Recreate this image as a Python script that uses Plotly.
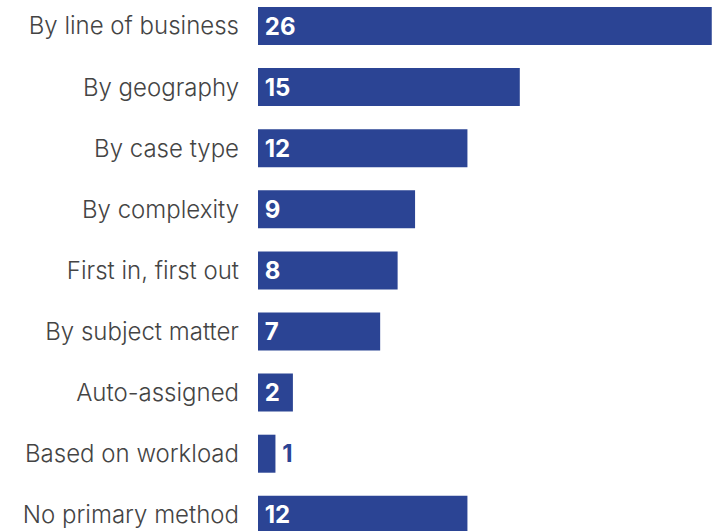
import plotly.graph_objects as go

categories = [
    "By line of business", "By geography", "By case type", "By complexity",
    "First in, first out", "By subject matter", "Auto-assigned",
    "Based on workload", "No primary method",
]
values = [26, 15, 12, 9, 8, 7, 2, 1, 12]

BLUE = "#2b4494"
# small bars carry their number outside
positions = ["inside" if v >= 2 else "outside" for v in values]
labels = ["\u2009" + str(v) for v in values]

fig = go.Figure(go.Bar(
    x=values,
    y=categories,
    orientation="h",
    marker=dict(color=BLUE, line=dict(width=0)),
    width=0.622,
    text=labels,
    textposition=positions,
    insidetextanchor="start",
    insidetextfont=dict(color="white", size=24, family="Inter", weight=700),
    outsidetextfont=dict(color=BLUE, size=24, family="Inter", weight=700),
    textangle=0,
    cliponaxis=False,
))

fig.update_layout(
    width=717, height=531,
    margin=dict(l=258, r=0, t=0, b=0),
    paper_bgcolor="white", plot_bgcolor="white",
    showlegend=False,
    uniformtext=dict(minsize=24, mode="show"),
    xaxis=dict(range=[0, 26.3], visible=False, fixedrange=True),
    yaxis=dict(
        range=[8.265, -0.4255],
        showgrid=False, zeroline=False, showline=False, ticks="",
        ticklabelstandoff=18,
        tickfont=dict(family="Inter", size=24, color="#444444", weight=300),
    ),
)

fig.write_html("out.html")
